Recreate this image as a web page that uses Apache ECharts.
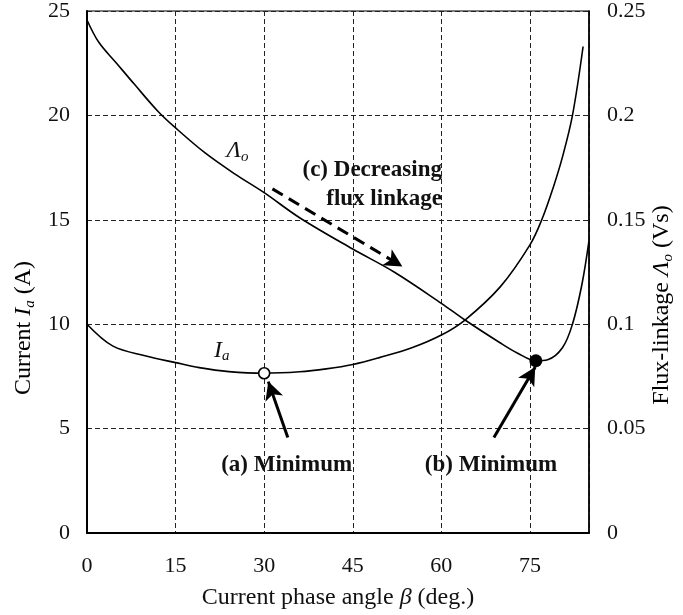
<!DOCTYPE html>
<html>
<head>
<meta charset="utf-8">
<script src="https://cdn.jsdelivr.net/npm/echarts@6/dist/echarts.min.js"></script>
<style>
  html, body { margin: 0; padding: 0; background: #fff; }
  #main { width: 683px; height: 615px; }
</style>
</head>
<body>
<div id="main"></div>
<script>
// current phase angle beta (deg) and armature current Ia (A)
var iaData = [
  [0, 10.0], [4.4, 8.95], [10, 8.48], [15, 8.16], [19, 7.92], [24, 7.73],
  [30, 7.65], [36, 7.72], [40.5, 7.86], [45, 8.07], [49.5, 8.4], [55, 8.87],
  [60, 9.48], [64, 10.2], [70, 11.8], [75, 13.8], [77, 15.0], [79, 16.6],
  [80.5, 18.0], [82.2, 20.0], [84, 23.3]
];
// flux linkage Lambda_o (Vs)
var fluxData = [
  [0, 0.2457], [2, 0.235], [5, 0.225], [8, 0.215], [12, 0.202], [15, 0.194],
  [20, 0.182], [25, 0.172], [30, 0.163], [36, 0.151], [45, 0.136], [52, 0.125],
  [60, 0.110], [64, 0.102], [70, 0.091], [73, 0.086], [76, 0.0825], [78, 0.083],
  [80.5, 0.0887], [82.2, 0.100], [83.8, 0.119], [85, 0.140]
];
var minA = [30, 7.65];     // (a) minimum current
var minB = [76, 0.0825];   // (b) minimum flux linkage

var serif = 'Liberation Serif';
var black = '#111';

var chart = echarts.init(document.getElementById('main'));

// rich styles for italic symbols with subscripts
var rich = {
  n: { fontFamily: serif, fontSize: 24, color: black, lineHeight: 30 },
  i: { fontFamily: serif, fontSize: 24, fontStyle: 'italic', color: black, lineHeight: 30 },
  s: { fontFamily: serif, fontSize: 15, fontStyle: 'italic', color: black, lineHeight: 30, padding: [12, 0, 0, 0] }
};
var bold = { fontFamily: serif, fontSize: 23, fontWeight: 'bold', color: black, lineHeight: 29 };

function note(coord, text, align, r) {
  return {
    coord: coord,
    symbol: 'circle',
    symbolSize: 0,
    label: {
      show: true, position: [0, 0], align: align || 'center', verticalAlign: 'middle',
      formatter: text, rich: r || {}
    }
  };
}

var option = {
  animation: false,
  backgroundColor: '#fff',
  grid: { left: 87, right: 94, top: 7, bottom: 82, show: true, borderColor: '#000', borderWidth: 1.2 },
  xAxis: {
    type: 'value', min: 0, max: 85, interval: 15,
    name: '{n|Current phase angle }{i|β}{n| (deg.)}',
    nameLocation: 'middle', nameGap: 50,
    nameTextStyle: { rich: rich },
    axisLine: { lineStyle: { color: '#000', width: 2 } },
    axisTick: { show: false },
    axisLabel: { fontFamily: serif, fontSize: 22, color: black, margin: 22, showMaxLabel: false },
    splitLine: { lineStyle: { color: '#222', type: [5, 3], width: 1 } }
  },
  yAxis: [{
    type: 'value', min: 0, max: 25, interval: 5,
    axisLine: { show: true, lineStyle: { color: '#000', width: 2 } },
    axisTick: { show: false },
    axisLabel: { fontFamily: serif, fontSize: 22, color: black, margin: 17 },
    splitLine: { lineStyle: { color: '#222', type: [5, 3], width: 1 } }
  }, {
    type: 'value', min: 0, max: 0.25, interval: 0.05,
    axisLine: { show: true, lineStyle: { color: '#000', width: 1.5 } },
    axisTick: { show: false },
    axisLabel: { fontFamily: serif, fontSize: 22, color: black, margin: 18 },
    splitLine: { show: false }
  }],
  graphic: [{
    type: 'text', x: 24, y: 328, rotation: Math.PI / 2,
    style: {
      text: '{n|Current }{i|I}{s|a}{n| (A)}', rich: rich,
      align: 'center', verticalAlign: 'middle', textAlign: 'center', textVerticalAlign: 'middle'
    }
  }, {
    type: 'text', x: 662, y: 305, rotation: Math.PI / 2,
    style: {
      text: '{n|Flux-linkage }{i|Λ}{s|o}{n| (Vs)}', rich: rich,
      align: 'center', verticalAlign: 'middle', textAlign: 'center', textVerticalAlign: 'middle'
    }
  }],
  series: [{
    name: 'Ia', type: 'line', data: iaData, yAxisIndex: 0,
    smooth: 0.35, showSymbol: false,
    lineStyle: { color: '#000', width: 1.6 },
    markPoint: {
      silent: true, animation: false,
      data: [
        note([22.8, 8.75], '{i|I}{s|a}', 'center', rich),
        note([25.5, 18.3], '{i|Λ}{s|o}', 'center', rich),
        note([60.1, 16.7], '{b|(c) Decreasing}\n{b|flux linkage}', 'right', { b: bold }),
        note([33.8, 3.24], '{b|(a) Minimum}', 'center', { b: bold }),
        note([68.4, 3.24], '{b|(b) Minimum}', 'center', { b: bold })
      ]
    },
    markLine: {
      silent: true, animation: false,
      symbol: ['none', 'arrow'], symbolSize: [14, 18],
      label: { show: false },
      lineStyle: { color: '#000', width: 3, type: 'solid' },
      data: [
        [{ coord: [34, 4.57] }, { coord: [30.7, 7.25] }],
        [{ coord: [68.9, 4.57] }, { coord: [75.9, 7.95] }],
        [{ coord: [31.4, 16.48], lineStyle: { type: [12, 7], width: 3 } }, { coord: [53.4, 12.76] }]
      ]
    }
  }, {
    name: 'flux', type: 'line', data: fluxData, yAxisIndex: 1,
    smooth: 0.35, showSymbol: false,
    lineStyle: { color: '#000', width: 1.6 }
  }, {
    name: 'minA', type: 'scatter', data: [minA], yAxisIndex: 0, z: 5,
    symbol: 'circle', symbolSize: 11,
    itemStyle: { color: '#fff', borderColor: '#000', borderWidth: 1.6, opacity: 1 }
  }, {
    name: 'minB', type: 'scatter', data: [minB], yAxisIndex: 1, z: 5,
    symbol: 'circle', symbolSize: 13,
    itemStyle: { color: '#000', opacity: 1 }
  }]
};

chart.setOption(option);
</script>
</body>
</html>
